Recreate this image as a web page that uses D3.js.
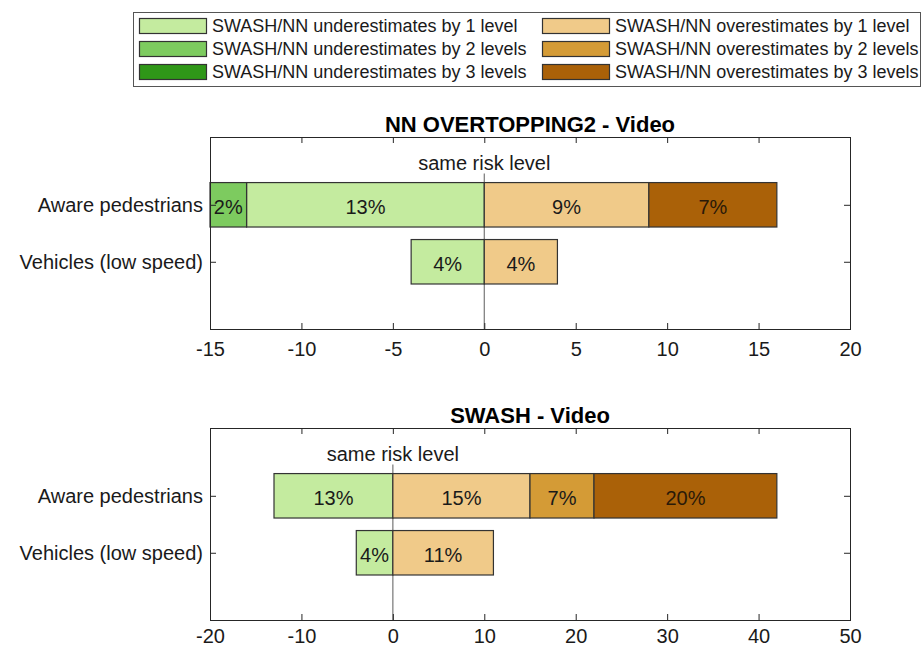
<!DOCTYPE html>
<html>
<head>
<meta charset="utf-8">
<script src="https://cdn.jsdelivr.net/npm/d3@7"></script>
<style>
  html, body { margin: 0; padding: 0; background: #fff; }
  svg { display: block; font-family: "Liberation Sans", Arial, Helvetica, sans-serif; }
</style>
</head>
<body>
<svg id="chart" width="923" height="650"></svg>
<script>
// Risk-level agreement categories
const categories = ["Aware pedestrians", "Vehicles (low speed)"];

// Legend entries and fills (under = green, over = brown)
const seriesKeys = ["under1", "under2", "under3", "over1", "over2", "over3"];
const seriesLabels = [
  "SWASH/NN underestimates by 1 level",
  "SWASH/NN underestimates by 2 levels",
  "SWASH/NN underestimates by 3 levels",
  "SWASH/NN overestimates by 1 level",
  "SWASH/NN overestimates by 2 levels",
  "SWASH/NN overestimates by 3 levels"
];
const seriesColors = ["#c4eb9f", "#7dcb5f", "#2f9718", "#f0ca89", "#d49b36", "#aa6108"];

// NN OVERTOPPING2 vs video (% of cases), one value per category
const nnUnder1 = [13, 4];
const nnUnder2 = [2, 0];
const nnUnder3 = [0, 0];
const nnOver1 = [9, 4];
const nnOver2 = [0, 0];
const nnOver3 = [7, 0];

// SWASH vs video (% of cases)
const swUnder1 = [13, 4];
const swUnder2 = [0, 0];
const swUnder3 = [0, 0];
const swOver1 = [15, 11];
const swOver2 = [7, 0];
const swOver3 = [20, 0];

// Axis ticks
const nnTicks = [-15, -10, -5, 0, 5, 10, 15, 20];
const swTicks = [-20, -10, 0, 10, 20, 30, 40, 50];

const panels = [
  {
    title: "NN OVERTOPPING2 - Video",
    domain: [-15, 20], ticks: nnTicks, top: 137, labelPad: 13,
    values: { under1: nnUnder1, under2: nnUnder2, under3: nnUnder3, over1: nnOver1, over2: nnOver2, over3: nnOver3 }
  },
  {
    title: "SWASH - Video",
    domain: [-20, 50], ticks: swTicks, top: 428, labelPad: 9,
    values: { under1: swUnder1, under2: swUnder2, under3: swUnder3, over1: swOver1, over2: swOver2, over3: swOver3 }
  }
];

const svg = d3.select("#chart");
const left = 210, right = 850, panelH = 192;
const axisColor = "#262626";
const textColor = "#1a1a1a";
const fontFamily = "'Liberation Sans', Arial, sans-serif";

// ---- Legend ----
const legend = svg.append("g");
legend.append("rect")
  .attr("x", 133.5).attr("y", 12.5).attr("width", 787).attr("height", 74)
  .attr("fill", "#fff").attr("stroke", "#555").attr("stroke-width", 1);
const legendCols = [139, 542];
const legendRows = [26, 49, 72];
seriesLabels.forEach((lab, i) => {
  const col = Math.floor(i / 3), row = i % 3;
  const g = legend.append("g").attr("transform", `translate(${legendCols[col]},${legendRows[row]})`);
  g.append("rect").attr("x", 0.5).attr("y", -7.5).attr("width", 67).attr("height", 15)
    .attr("fill", seriesColors[i]).attr("stroke", "#333").attr("stroke-width", 1.2);
  g.append("text").attr("x", 73).attr("y", 0).attr("dy", "0.35em")
    .attr("font-size", 18).attr("fill", textColor).text(lab);
});

// ---- Panels ----
panels.forEach(p => {
  const x = d3.scaleLinear().domain(p.domain).range([left, right]);
  const y = d3.scaleLinear().domain([-0.19, 3.18]).range([p.top, p.top + panelH]);
  const g = svg.append("g");
  const bottom = p.top + panelH;
  const barH = y(0.78) - y(0);

  // Stack segments outward from zero
  const segs = [];
  categories.forEach((c, ci) => {
    let neg = 0, pos = 0;
    ["under1", "under2", "under3"].forEach(k => {
      const v = p.values[k][ci];
      if (v > 0) { segs.push({ ci, k, v, x0: neg - v, x1: neg }); neg -= v; }
    });
    ["over1", "over2", "over3"].forEach(k => {
      const v = p.values[k][ci];
      if (v > 0) { segs.push({ ci, k, v, x0: pos, x1: pos + v }); pos += v; }
    });
  });

  // zero reference line
  g.append("line")
    .attr("x1", x(0)).attr("x2", x(0))
    .attr("y1", y(0.45)).attr("y2", bottom)
    .attr("stroke", "#777").attr("stroke-width", 1.2);

  g.selectAll("rect.seg").data(segs).join("rect")
    .attr("class", "seg")
    .attr("x", d => x(d.x0))
    .attr("width", d => x(d.x1) - x(d.x0))
    .attr("y", d => y(d.ci + 1) - barH / 2)
    .attr("height", barH)
    .attr("fill", d => seriesColors[seriesKeys.indexOf(d.k)])
    .attr("stroke", "#333").attr("stroke-width", 1.2);

  g.selectAll("text.val").data(segs).join("text")
    .attr("class", "val")
    .attr("x", d => x((d.x0 + d.x1) / 2))
    .attr("y", d => y(d.ci + 1) + 2)
    .attr("dy", "0.35em")
    .attr("text-anchor", "middle")
    .attr("font-size", 20)
    .attr("fill", d => d.k === "over3" ? "#2a1a08" : textColor)
    .text(d => d.v + "%");

  // annotation above zero line
  g.append("text")
    .attr("x", x(0)).attr("y", y(0.27)).attr("dy", "0.35em")
    .attr("text-anchor", "middle").attr("font-size", 20).attr("fill", textColor)
    .text("same risk level");

  // box
  g.append("rect")
    .attr("x", left + 0.5).attr("y", p.top + 0.5)
    .attr("width", right - left).attr("height", panelH)
    .attr("fill", "none").attr("stroke", axisColor).attr("stroke-width", 1);

  // x axis (bottom) with inward ticks, mirrored on top
  const xb = g.append("g").attr("transform", `translate(0,${bottom})`)
    .call(d3.axisBottom(x).tickValues(p.ticks).tickSize(-6).tickPadding(p.labelPad)
      .tickFormat(d => String(d)));
  const xt = g.append("g").attr("transform", `translate(0,${p.top})`)
    .call(d3.axisTop(x).tickValues(p.ticks).tickSize(-6).tickFormat(""));
  [xb, xt].forEach(a => {
    a.select(".domain").remove();
    a.selectAll(".tick line").attr("stroke", axisColor);
  });
  xb.selectAll(".tick text").attr("font-size", 20).attr("fill", textColor)
    .attr("font-family", fontFamily);
  xt.selectAll(".tick").filter(d => d === p.domain[0] || d === p.domain[1]).remove();
  xb.selectAll(".tick line").filter(d => d === p.domain[0] || d === p.domain[1]).remove();

  // y axis category labels with inward ticks on both sides
  const yl = g.append("g").attr("transform", `translate(${left},0)`)
    .call(d3.axisLeft(y).tickValues([1, 2]).tickSize(-6).tickPadding(7)
      .tickFormat(d => categories[d - 1]));
  const yr = g.append("g").attr("transform", `translate(${right},0)`)
    .call(d3.axisRight(y).tickValues([1, 2]).tickSize(-6).tickFormat(""));
  [yl, yr].forEach(a => {
    a.select(".domain").remove();
    a.selectAll(".tick line").attr("stroke", axisColor);
  });
  yl.selectAll(".tick text").attr("font-size", 20).attr("fill", textColor)
    .attr("font-family", fontFamily);

  // title
  g.append("text")
    .attr("x", (left + right) / 2).attr("y", p.top - 5)
    .attr("text-anchor", "middle").attr("font-size", 22).attr("font-weight", "bold")
    .attr("fill", "#000").text(p.title);
});
</script>
</body>
</html>
